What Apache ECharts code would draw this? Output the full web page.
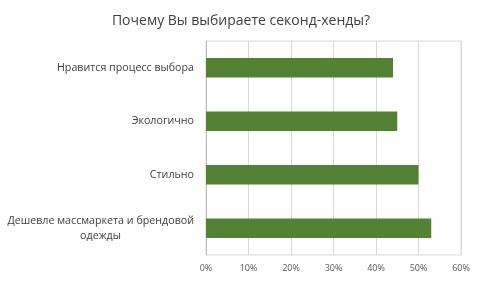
<!DOCTYPE html>
<html>
<head>
<meta charset="utf-8">
<script src="https://cdn.jsdelivr.net/npm/echarts@6/dist/echarts.min.js"></script>
<style>
  html, body { margin: 0; padding: 0; background: #fff; }
  #chart { width: 482px; height: 281px; }
</style>
</head>
<body>
<div id="chart"></div>
<script>
var titleText = "Почему Вы выбираете секонд-хенды?";
// снизу вверх, как рисует ECharts
var categories = [
  "Дешевле массмаркета и брендовой\nодежды",
  "Стильно",
  "Экологично",
  "Нравится процесс выбора",
];
var values = [53, 50, 45, 44];
var xTicks = [0, 10, 20, 30, 40, 50, 60];

var myChart = echarts.init(document.getElementById("chart"));
var option = {
  animation: false,
  textStyle: {
    fontFamily: "Open Sans",
  },
  title: {
    text: titleText,
    left: "center",
    top: 9,
    textStyle: {
      fontSize: 14,
      fontWeight: "normal",
      color: "#404040",
      fontFamily: "Open Sans",
    },
  },
  grid: {
    left: 206,
    right: 21,
    top: 41,
    bottom: 26,
    show: true,
    borderColor: "#d9d9d9",
    borderWidth: 1,
  },
  xAxis: {
    type: "value",
    min: xTicks[0],
    max: xTicks[xTicks.length - 1],
    interval: 10,
    axisLine: { show: false },
    axisTick: { show: false },
    splitLine: {
      lineStyle: { color: "#d9d9d9" },
    },
    axisLabel: {
      color: "#595959",
      fontSize: 9,
      margin: 9,
      formatter: "{value}%",
    },
  },
  yAxis: {
    type: "category",
    data: categories,
    axisLine: {
      lineStyle: { color: "#bfbfbf" },
    },
    axisTick: { show: false },
    axisLabel: {
      color: "#404040",
      fontSize: 10.7,
      margin: 12,
      lineHeight: 15,
      formatter: function (v) {
        if (v.indexOf("\n") < 0) return v;
        var parts = v.split("\n");
        return "{a|" + parts[0] + "}\n{b|" + parts[1] + "}";
      },
      rich: {
        a: { fontSize: 10.7, color: "#404040", lineHeight: 15 },
        b: { fontSize: 10.7, color: "#404040", lineHeight: 15, width: 187, align: "center" },
      },
    },
  },
  series: [
    {
      type: "bar",
      data: values,
      barWidth: "36%",
      itemStyle: { color: "#548235" },
    },
  ],
};
myChart.setOption(option);
</script>
</body>
</html>
